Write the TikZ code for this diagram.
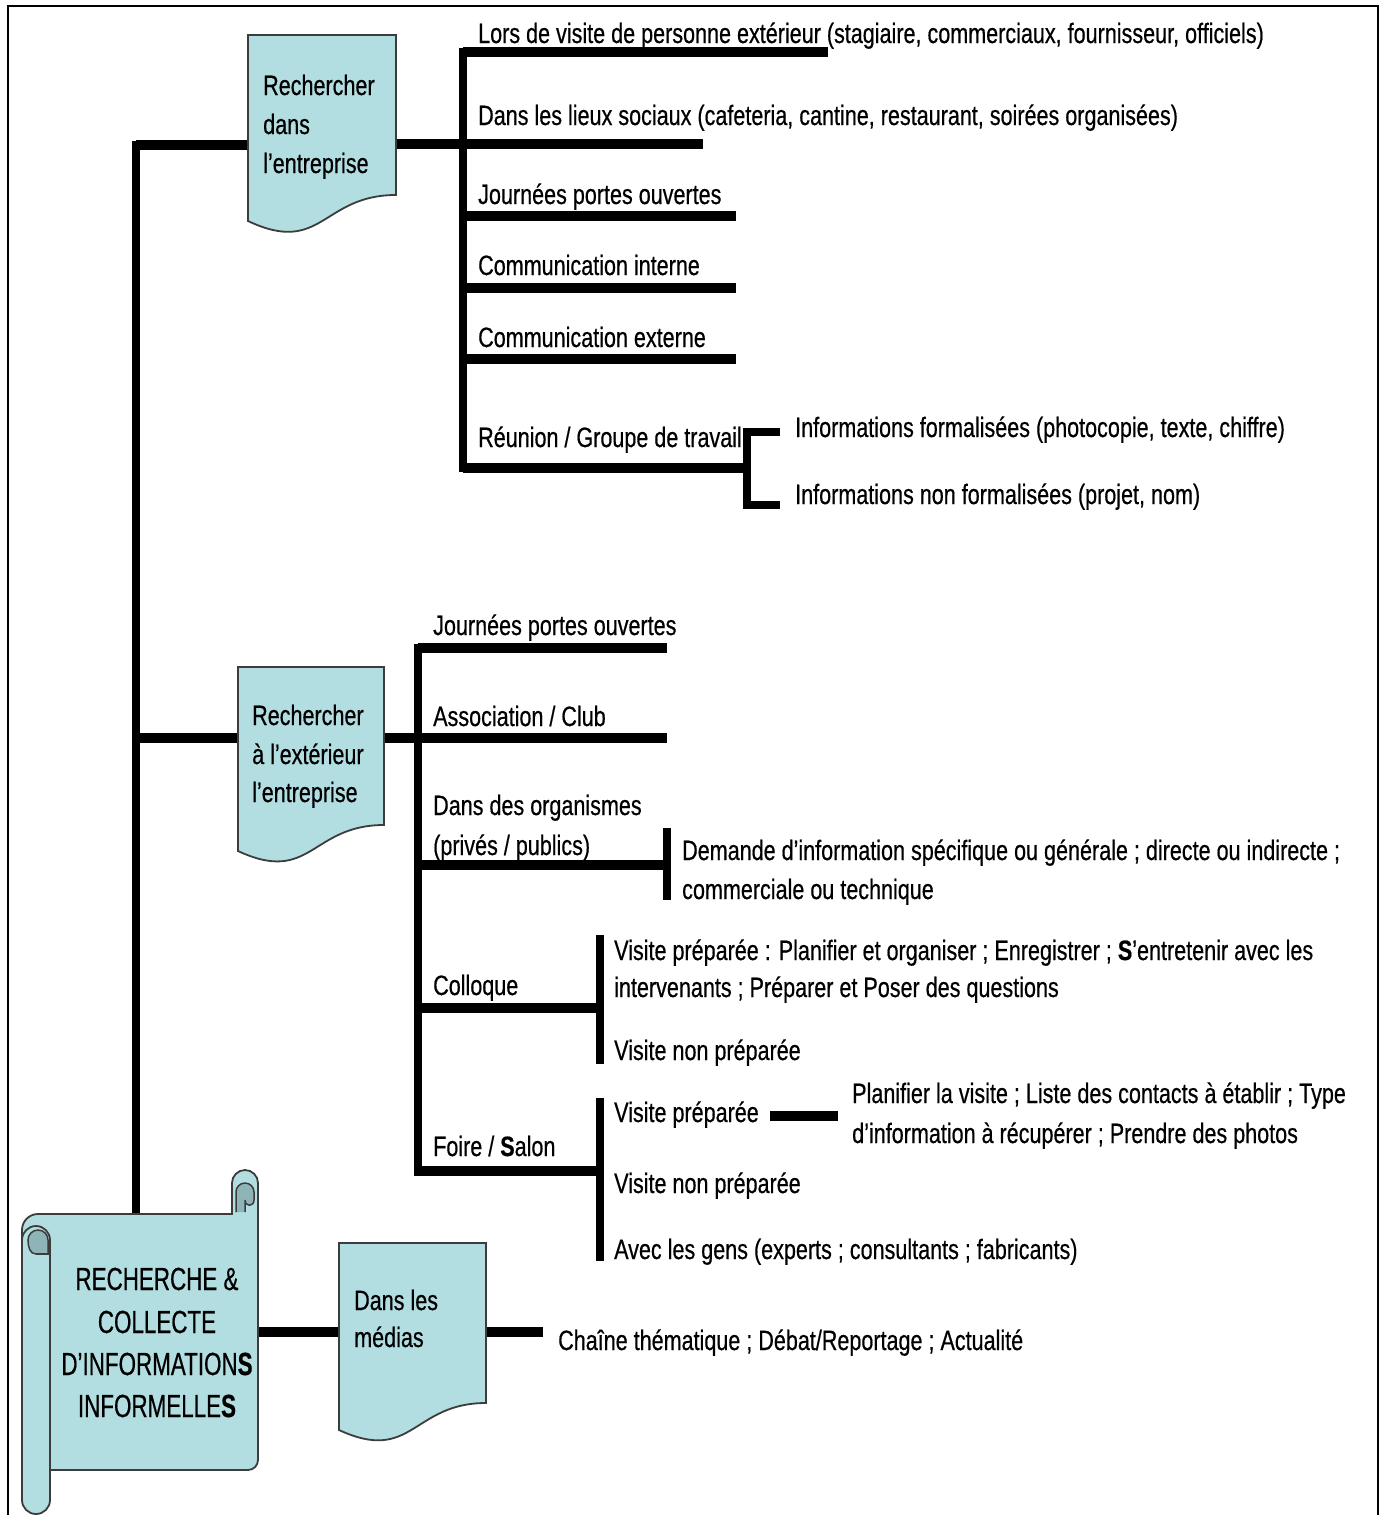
\documentclass[tikz,border=0pt]{standalone}
\usepackage{fontspec}
\setmainfont{Liberation Sans}[FakeStretch=0.77,FakeBold=0.5]
\newfontfamily\scrollfont{Liberation Sans}[FakeStretch=0.70,FakeBold=0.5]
\definecolor{boxfill}{RGB}{178,222,226}
\definecolor{curlfill}{RGB}{142,180,184}
\definecolor{boxline}{RGB}{60,60,60}
\begin{document}
\begin{tikzpicture}[x=1pt,y=-1pt,
  lbl/.style={anchor=base west,inner sep=0pt,font=\fontsize{28}{34}\selectfont},
  biglbl/.style={anchor=base,inner sep=0pt,font=\scrollfont\fontsize{32}{40}\selectfont},
  hbar/.style={line width=9.5pt},
  vbar/.style={line width=7.5pt},
  docbox/.style={fill=boxfill,draw=boxline,line width=1.8pt},
  frameline/.style={line width=2pt}]
\useasboundingbox (0,0) rectangle (1386,1515);
\fill[white] (0,0) rectangle (1386,1515);

% outer frame
\draw[frameline] (8,1515) -- (8,6) -- (1378,6) -- (1378,1515);

% ---------- main trunk ----------
\coordinate (tk top) at (136,141);
\coordinate (tk bot) at (136,1213);
\coordinate (tk b1) at (136,145);
\coordinate (tk b2) at (136,738);
\coordinate (b1 in) at (249,145);
\coordinate (b2 in) at (239,738);
\draw[vbar] (tk top) -- (tk bot);
\draw[hbar] (tk b1) -- (b1 in);
\draw[hbar] (tk b2) -- (b2 in);

% scroll to media box
\coordinate (sc out) at (258,1332);
\coordinate (b3 in) at (339,1332);
\coordinate (b3 out) at (486,1332);
\coordinate (b3 end) at (543,1332);
\draw[hbar] (sc out) -- (b3 in);
\draw[hbar] (b3 out) -- (b3 end);

% ---------- group 1 : inside the company ----------
\coordinate (s1 top) at (463,47.5);
\coordinate (s1 bot) at (463,472);
\coordinate (b1 out) at (396,144);
\draw[vbar] (s1 top) -- (s1 bot);
\coordinate (g11) at (463,52);  \coordinate (g11e) at (828,52);
\coordinate (g12e) at (703,144);
\coordinate (g13) at (463,216); \coordinate (g13e) at (736,216);
\coordinate (g14) at (463,288); \coordinate (g14e) at (736,288);
\coordinate (g15) at (463,359); \coordinate (g15e) at (736,359);
\coordinate (g16) at (463,468); \coordinate (g16e) at (747,468);
\draw[hbar] (g11) -- (g11e);
\draw[hbar] (b1 out) -- (g12e);
\draw[hbar] (g13) -- (g13e);
\draw[hbar] (g14) -- (g14e);
\draw[hbar] (g15) -- (g15e);
\draw[hbar] (g16) -- (g16e);
% bracket of the meeting branch
\coordinate (br1 top) at (747,428);
\coordinate (br1 bot) at (747,509);
\coordinate (br1 a) at (747,432); \coordinate (br1 ae) at (780,432);
\coordinate (br1 b) at (747,505); \coordinate (br1 be) at (780,505);
\draw[vbar] (br1 top) -- (br1 bot);
\draw[line width=8pt] (br1 a) -- (br1 ae);
\draw[line width=8pt] (br1 b) -- (br1 be);

% ---------- group 2 : outside the company ----------
\coordinate (s2 top) at (418,643.5);
\coordinate (s2 bot) at (418,1175.5);
\coordinate (b2 out) at (384,738);
\draw[vbar] (s2 top) -- (s2 bot);
\coordinate (g21) at (418,648);  \coordinate (g21e) at (667,648);
\coordinate (g22e) at (667,738);
\coordinate (g23) at (418,865);  \coordinate (g23e) at (667,865);
\coordinate (g24) at (418,1008); \coordinate (g24e) at (600,1008);
\coordinate (g25) at (418,1171); \coordinate (g25e) at (600,1171);
\draw[hbar] (g21) -- (g21e);
\draw[hbar] (b2 out) -- (g22e);
\draw[hbar] (g23) -- (g23e);
\draw[hbar] (g24) -- (g24e);
\draw[hbar] (g25) -- (g25e);
\coordinate (br2 top) at (667,828); \coordinate (br2 bot) at (667,900);
\coordinate (br3 top) at (600,935); \coordinate (br3 bot) at (600,1064);
\coordinate (br4 top) at (600,1098); \coordinate (br4 bot) at (600,1261);
\draw[line width=8pt] (br2 top) -- (br2 bot);
\draw[vbar] (br3 top) -- (br3 bot);
\draw[vbar] (br4 top) -- (br4 bot);
\coordinate (dash a) at (770,1116); \coordinate (dash b) at (838,1116);
\draw[hbar] (dash a) -- (dash b);

% ---------- document shapes ----------
\path[docbox] (248,35) -- (396,35) -- (396,195)
  .. controls (322,195) and (322,256) .. (248,221) -- cycle;
\path[docbox] (238,667) -- (384,667) -- (384,825)
  .. controls (311,825) and (311,885) .. (238,851) -- cycle;
\path[docbox] (339,1243) -- (486,1243) -- (486,1403)
  .. controls (412.5,1403) and (412.5,1464) .. (339,1430) -- cycle;

% ---------- scroll ----------
% sheet with the right-hand roll
\path[docbox] (22,1230) arc[start angle=180,end angle=270,radius=16]
  -- (232,1214) -- (232,1183)
  arc[start angle=180,end angle=360,radius=13] -- (258,1460)
  arc[start angle=0,end angle=90,radius=10] -- (50,1470) -- (22,1470) -- cycle;
% rolled top of the right edge
\path[draw=boxline,line width=1.5pt,fill=curlfill] (236,1212) -- (236,1192)
  arc[start angle=180,end angle=360,radius=9] -- (254,1200)
  .. controls (254,1207) and (245,1207) .. (245,1200) -- (245,1212);
% left roll
\path[docbox] (22,1240) arc[start angle=180,end angle=360,radius=14]
  -- (50,1500) arc[start angle=0,end angle=180,radius=14] -- cycle;
\path[draw=boxline,line width=1.5pt,fill=curlfill] (36,1254)
  .. controls (30,1254) and (28,1247) .. (28,1240)
  arc[start angle=180,end angle=360,radius=10] -- (48,1254) -- cycle;
\draw[boxline,line width=1.5pt] (36,1254) -- (50,1254);

% ---------- texts ----------
\node[biglbl] (sc1) at (157,1290) {RECHERCHE \&};
\node[biglbl] (sc2) at (157,1333) {COLLECTE};
\node[biglbl] (sc3) at (157,1375) {D’INFORMATION\textbf{S}};
\node[biglbl] (sc4) at (157,1417) {INFORMELLE\textbf{S}};

\node[lbl] (b1a) at (263,95) {Rechercher};
\node[lbl] (b1b) at (263,134) {dans};
\node[lbl] (b1c) at (263,173) {l’entreprise};

\node[lbl] (b2a) at (252,725) {Rechercher};
\node[lbl] (b2b) at (252,764) {à l’extérieur};
\node[lbl] (b2c) at (252,802) {l’entreprise};

\node[lbl] (b3a) at (354,1310) {Dans les};
\node[lbl] (b3b) at (354,1347) {médias};

\node[lbl] (t11) at (478,43) {Lors de visite de personne extérieur (stagiaire, commerciaux, fournisseur, officiels)};
\node[lbl] (t12) at (478,125) {Dans les lieux sociaux (cafeteria, cantine, restaurant, soirées organisées)};
\node[lbl] (t13) at (478,204) {Journées portes ouvertes};
\node[lbl] (t14) at (478,275) {Communication interne};
\node[lbl] (t15) at (478,347) {Communication externe};
\node[lbl] (t16) at (478,447) {Réunion / Groupe de travail};
\node[lbl] (t161) at (795,437) {Informations formalisées (photocopie, texte, chiffre)};
\node[lbl] (t162) at (795,504) {Informations non formalisées (projet, nom)};

\node[lbl] (t21) at (433,635) {Journées portes ouvertes};
\node[lbl] (t22) at (433,726) {Association / Club};
\node[lbl] (t23a) at (433,815) {Dans des organismes};
\node[lbl] (t23b) at (433,855) {(privés / publics)};
\node[lbl] (t231a) at (682,860) {Demande d’information spécifique ou générale ; directe ou indirecte ;};
\node[lbl] (t231b) at (682,899) {commerciale ou technique};
\node[lbl] (t24) at (433,995) {Colloque};
\node[lbl] (t241a) at (614,960) {Visite préparée : Planifier et organiser ; Enregistrer ; \textbf{S}’entretenir avec les};
\node[lbl] (t241b) at (614,997) {intervenants ; Préparer et Poser des questions};
\node[lbl] (t242) at (614,1060) {Visite non préparée};
\node[lbl] (t25) at (433,1156) {Foire / \textbf{S}alon};
\node[lbl] (t251) at (614,1122) {Visite préparée};
\node[lbl] (t251a) at (852,1103) {Planifier la visite ; Liste des contacts à établir ; Type};
\node[lbl] (t251b) at (852,1143) {d’information à récupérer ; Prendre des photos};
\node[lbl] (t252) at (614,1193) {Visite non préparée};
\node[lbl] (t253) at (614,1259) {Avec les gens (experts ; consultants ; fabricants)};
\node[lbl] (t31) at (558,1350) {Chaîne thématique ; Débat/Reportage ; Actualité};
\end{tikzpicture}
\end{document}
